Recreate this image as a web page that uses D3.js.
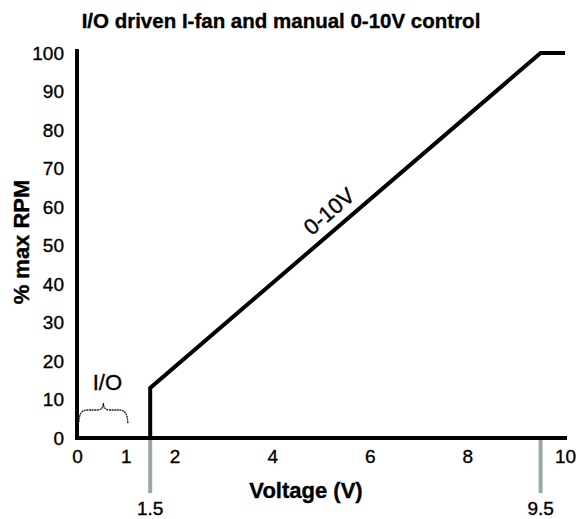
<!DOCTYPE html>
<html>
<head>
<meta charset="utf-8">
<script src="https://cdn.jsdelivr.net/npm/d3@7"></script>
<style>
  html, body { margin: 0; padding: 0; background: #fff; }
  svg { display: block; font-family: "Liberation Sans", Arial, sans-serif; }
  svg text { stroke: #000; stroke-width: 0.35px; }
</style>
</head>
<body>
<svg id="chart" width="576" height="519"></svg>
<script>
// Fan speed curve: I/O step at 1.5 V, linear ramp to full speed at 9.5 V
const voltage = [1.5, 1.5, 9.5, 10];
const rpmPct  = [0, 13, 100, 100];

const xTicks = [0, 1, 2, 4, 6, 8, 10];
const yTicks = [0, 10, 20, 30, 40, 50, 60, 70, 80, 90, 100];
const markers = [1.5, 9.5];
const ioRange = [0, 1];

const svg = d3.select("#chart");
const x = d3.scaleLinear().domain([0, 10]).range([77, 565]);
const y = d3.scaleLinear().domain([0, 100]).range([438, 53]);

// Title
svg.append("text")
  .attr("x", 281).attr("y", 28)
  .attr("text-anchor", "middle")
  .attr("font-size", 20.5).attr("font-weight", "bold")
  .text("I/O driven I-fan and manual 0-10V control");

// Marker lines below the axis
const mk = svg.append("g");
markers.forEach(v => {
  mk.append("line")
    .attr("x1", x(v)).attr("x2", x(v))
    .attr("y1", y(0)).attr("y2", 493)
    .attr("stroke", "#9aa7a4").attr("stroke-width", 4);
  mk.append("text")
    .attr("x", x(v)).attr("y", 515)
    .attr("text-anchor", "middle").attr("font-size", 19)
    .text(v.toFixed(1));
});

// Axes
const xAxis = svg.append("g")
  .attr("transform", `translate(0,${y(0)})`)
  .call(d3.axisBottom(x).tickValues(xTicks).tickSize(0).tickPadding(12).tickFormat(d3.format("d")));
xAxis.select(".domain").attr("stroke", "#000").attr("stroke-width", 4).attr("d", `M${x(0)},0H${x(10) + 2}`);
xAxis.selectAll("text").attr("font-size", 19).attr("fill", "#000").attr("font-family", "Liberation Sans, Arial, sans-serif");

const yAxis = svg.append("g")
  .attr("transform", `translate(${x(0)},0)`)
  .call(d3.axisLeft(y).tickValues(yTicks).tickSize(0).tickPadding(13));
yAxis.select(".domain").attr("stroke", "#000").attr("stroke-width", 4).attr("d", `M0,${y(0) + 2}V${y(100) - 4}`);
yAxis.selectAll("text").attr("font-size", 19).attr("fill", "#000").attr("font-family", "Liberation Sans, Arial, sans-serif");

// Axis titles
svg.append("text")
  .attr("x", 306).attr("y", 498)
  .attr("text-anchor", "middle")
  .attr("font-size", 22).attr("font-weight", "bold")
  .text("Voltage (V)");
svg.append("text")
  .attr("transform", `translate(29,242) rotate(-90)`)
  .attr("text-anchor", "middle")
  .attr("font-size", 22).attr("font-weight", "bold")
  .text("% max RPM");

// Speed curve
const pts = voltage.map((v, i) => [v, rpmPct[i]]);
svg.append("path")
  .datum(pts)
  .attr("fill", "none")
  .attr("stroke", "#000")
  .attr("stroke-width", 4)
  .attr("stroke-linejoin", "miter")
  .attr("d", d3.line().x(d => x(d[0])).y(d => y(d[1])));

// Label along the ramp
const p0 = [x(voltage[1]), y(rpmPct[1])];
const p1 = [x(voltage[2]), y(rpmPct[2])];
const ang = Math.atan2(p1[1] - p0[1], p1[0] - p0[0]) * 180 / Math.PI;
const lv = 5.4;
const lx = x(lv), ly = y(rpmPct[1] + (lv - voltage[1]) * ((rpmPct[2] - rpmPct[1]) / (voltage[2] - voltage[1])));
svg.append("text")
  .attr("transform", `translate(${lx},${ly}) rotate(${ang}) translate(0,-10)`)
  .attr("text-anchor", "middle")
  .attr("font-size", 22)
  .text("0-10V");

// I/O range brace
const bx0 = x(ioRange[0]) + 2, bx1 = x(ioRange[1]) + 2, bm = (bx0 + bx1) / 2;
const by = 410;
svg.append("path")
  .attr("fill", "none")
  .attr("stroke", "#222")
  .attr("stroke-width", 1.3)
  .attr("stroke-dasharray", "2,0.6")
  .attr("d", `M${bx0},${by + 12} Q${bx0},${by} ${bx0 + 8},${by} L${bm - 6},${by} Q${bm},${by} ${bm},${by - 7}` +
             ` Q${bm},${by} ${bm + 6},${by} L${bx1 - 8},${by} Q${bx1},${by} ${bx1},${by + 14}`);
svg.append("text")
  .attr("x", bm + 4).attr("y", 390)
  .attr("text-anchor", "middle")
  .attr("font-size", 22)
  .text("I/O");
</script>
</body>
</html>
